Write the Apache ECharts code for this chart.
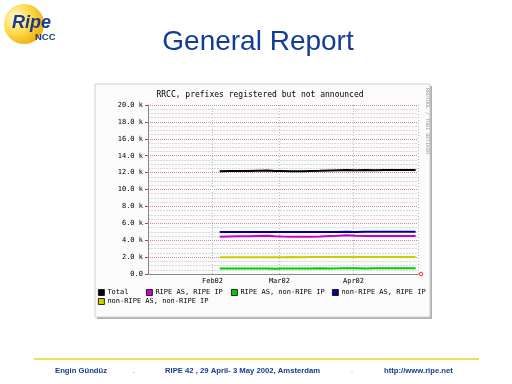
<!DOCTYPE html>
<html><head><meta charset="utf-8">
<script src="https://cdn.jsdelivr.net/npm/echarts@6/dist/echarts.min.js"></script>
<style>html,body{margin:0;padding:0;background:#fff}#c{width:512px;height:384px}</style>
</head><body><div id="c"></div>
<script>
var dates = ['2002-02-04','2002-02-08','2002-02-12','2002-02-16','2002-02-20','2002-02-24','2002-02-27','2002-03-02','2002-03-06','2002-03-10','2002-03-14','2002-03-18','2002-03-22','2002-03-26','2002-03-29','2002-04-02','2002-04-06','2002-04-10','2002-04-14','2002-04-18','2002-04-22','2002-04-27'];
var total =      [12150,12180,12200,12190,12220,12250,12200,12180,12150,12170,12200,12220,12250,12280,12300,12280,12300,12290,12300,12310,12300,12320];
var ripeRipe =   [4420,4450,4470,4480,4500,4520,4470,4430,4400,4410,4420,4450,4500,4520,4600,4520,4500,4510,4500,4510,4500,4500];
var ripeNon =    [640,650,660,650,660,640,620,650,660,650,660,670,660,670,680,670,660,670,680,670,680,680];
var nonRipe =    [4960,4960,4970,4960,4970,4970,4960,4970,4970,4980,4970,4980,4980,4980,4990,4980,4990,4990,4990,4990,5000,5000];
var nonNon =     [1980,1980,1990,1980,1990,1990,1990,1990,2000,1990,2000,2000,2000,2000,2000,2010,2000,2010,2010,2000,2010,2010];
var seriesNames = ['Total','RIPE AS, RIPE IP','RIPE AS, non-RIPE IP','non-RIPE AS, RIPE IP','non-RIPE AS, non-RIPE IP'];
var seriesColors = ['#000000','#cc00cc','#00cc00','#000099','#cccc00'];
var monthLabels = ['Jan02','Feb02','Mar02','Apr02','May02'];

function pts(v){ return dates.map(function(d,i){ return [d, v[i]]; }); }
var allVals = [total, ripeRipe, ripeNon, nonRipe, nonNon];
var mono = 'DejaVu Sans Mono';
var legendPos = [[98,289],[146,289],[231,289],[332,289],[98,298]];
var footFont = 'bold 7.7px "Liberation Sans"';

var chart = echarts.init(document.getElementById('c'));
chart.setOption({
  animation:false,
  backgroundColor:'#ffffff',
  graphic:[
    {type:'rect', z:-10, shape:{x:97,y:86,width:335,height:233}, style:{fill:'#b0b0b0'}},
    {type:'rect', z:-9, shape:{x:95,y:84,width:335,height:233}, style:{fill:'#fbfbfb', stroke:'#d0d0d0', lineWidth:1}},
    {type:'circle', shape:{cx:24,cy:24,r:20}, style:{fill:new echarts.graphic.RadialGradient(0.3,0.35,0.8,[{offset:0,color:'#fffbe0'},{offset:0.45,color:'#ffdc50'},{offset:1,color:'#e8a800'}])}},
    {type:'text', style:{x:12,y:14,text:'Ripe',font:'italic bold 18px "Liberation Sans"',fill:'#1b3a8c'}},
    {type:'text', style:{x:35,y:32,text:'NCC',font:'bold 9.5px "Liberation Sans"',fill:'#1b3a8c'}},
    {type:'text', style:{x:258,y:42,text:'General Report',font:'28px "Liberation Sans"',fill:'#133c98',align:'center',verticalAlign:'middle'}},
    {type:'text', style:{x:260,y:95,text:'RRCC, prefixes registered but not announced',font:'8px "'+mono+'"',fill:'#000',align:'center',verticalAlign:'middle'}},
    {type:'text', rotation:-Math.PI/2, x:427, y:88, style:{x:0,y:0,text:'RRDTOOL / TOBI OETIKER',font:'5px "'+mono+'"',fill:'#999',verticalAlign:'middle'}},
    {type:'circle', shape:{cx:421,cy:274,r:1.8}, style:{fill:'none',stroke:'#ff3030',lineWidth:1}},
    {type:'line', shape:{x1:34,y1:359,x2:479,y2:359}, style:{stroke:'#f0d020',lineWidth:1.5}},
    {type:'text', style:{x:55,y:371,text:'Engin Gündüz',font:footFont,fill:'#1a3a8c',verticalAlign:'middle'}},
    {type:'text', style:{x:133,y:371,text:'.',font:footFont,fill:'#e0c000',verticalAlign:'middle'}},
    {type:'text', style:{x:165,y:371,text:'RIPE 42 , 29 April- 3 May 2002, Amsterdam',font:footFont,fill:'#1a3a8c',verticalAlign:'middle'}},
    {type:'text', style:{x:351,y:371,text:'.',font:footFont,fill:'#e0c000',verticalAlign:'middle'}},
    {type:'text', style:{x:384,y:371,text:'http://www.ripe.net',font:footFont,fill:'#1a3a8c',verticalAlign:'middle'}}
  ],
  legend: seriesNames.map(function(n,i){
    return {left:legendPos[i][0], top:legendPos[i][1], padding:0, itemWidth:6, itemHeight:6, itemGap:4,
      icon:'rect', selectedMode:false,
      textStyle:{fontFamily:mono,fontSize:7,color:'#000',padding:[0,0,0,-2]},
      data:[{name:n, itemStyle:{borderColor:'#000',borderWidth:0.8}}]};
  }),
  grid:{left:148,right:94,top:105,bottom:110,containLabel:false},
  xAxis:{type:'time', min:'2002-01-05', max:'2002-04-28',
    minInterval:28*86400000, maxInterval:31*86400000,
    axisLine:{show:true,lineStyle:{color:'#888',width:1}},
    axisTick:{show:false},
    axisLabel:{fontFamily:mono,fontSize:7,color:'#000',margin:4,hideOverlap:false,
      formatter:function(v){ return monthLabels[new Date(v).getMonth()]; }},
    splitLine:{show:true,lineStyle:{color:'#bbbbbb',type:[1,2],width:1}}
  },
  yAxis:{type:'value', min:0, max:20000, interval:2000,
    axisLine:{show:true,lineStyle:{color:'#888',width:1}},
    axisTick:{show:true,length:3,inside:false,lineStyle:{color:'#c04040'}},
    axisLabel:{fontFamily:mono,fontSize:7,color:'#000',margin:5,
      formatter:function(v){ return v===0 ? '0.0' : (v/1000).toFixed(1)+' k'; }},
    splitLine:{show:true,lineStyle:{color:'#c89090',type:[1,1],width:1}},
    minorTick:{show:false,splitNumber:4},
    minorSplitLine:{show:true,lineStyle:{color:'#d8d8d8',type:[2,1],width:1}}
  },
  series: seriesNames.map(function(n,i){
    return {name:n, type:'line', data:pts(allVals[i]), showSymbol:false, symbol:'none',
      color:seriesColors[i], lineStyle:{width:2,color:seriesColors[i]}, z:10-i};
  })
});
</script></body></html>
